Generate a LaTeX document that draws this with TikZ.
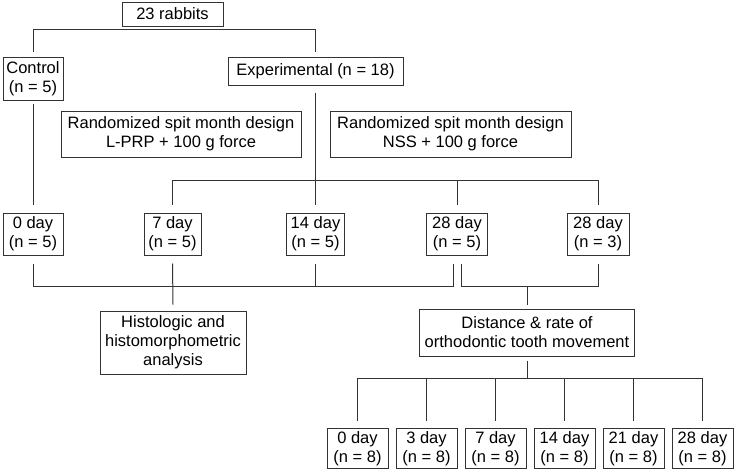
\documentclass[tikz,border=0pt]{standalone}
\usepackage{fontspec}
\setmainfont{Liberation Sans}
\tikzset{box/.style={draw=black!80, line width=1pt, align=center, inner sep=0pt},
  link/.style={draw=black!80, line width=1pt}}
\begin{document}
\begin{tikzpicture}[x=1pt,y=-1pt,font=\fontsize{16.5}{19}\selectfont]
\useasboundingbox (0,0) rectangle (735,471);
\node [box,minimum width=101,minimum height=24] (rabbits) at (172.5,14) {23 rabbits};
\node [box,minimum width=60,minimum height=43] (control) at (33,78.5) {Control\\(n = 5)};
\node [box,minimum width=175,minimum height=28] (exper) at (315.5,71) {Experimental (n = 18)};
\node [box,minimum width=240,minimum height=46] (lprp) at (181,134) {Randomized spit month design\\L-PRP + 100 g force};
\node [box,minimum width=241,minimum height=46] (nss) at (450.5,134) {Randomized spit month design\\NSS + 100 g force};
\node [box,minimum width=60,minimum height=42] (d0) at (33,234) {0 day\\(n = 5)};
\node [box,minimum width=57,minimum height=42] (d7) at (172.5,234) {7 day\\(n = 5)};
\node [box,minimum width=58,minimum height=42] (d14) at (315.5,234) {14 day\\(n = 5)};
\node [box,minimum width=61,minimum height=42] (d28a) at (457,234) {28 day\\(n = 5)};
\node [box,minimum width=62,minimum height=42] (d28b) at (598,234) {28 day\\(n = 3)};
\node [box,minimum width=146,minimum height=63] (histo) at (173,342.5) {Histologic and\\histomorphometric\\analysis};
\node [box,minimum width=215,minimum height=47] (dist) at (527,332.5) {Distance \& rate of\\orthodontic tooth movement};
\foreach \d [count=\i] in {0,3,7,14,21,28}
  \node [box,minimum width=61,minimum height=40] (b\i) at (357.5+69*\i-69,448.5) {\d\ day\\(n = 8)};
\coordinate (topbar) at (0,29.5);
\coordinate (rowbar) at (0,180);
\coordinate (histbar) at (0,286);
\coordinate (botbar) at (0,378);
\coordinate (splitL) at ([xshift=-4pt,yshift=-8pt]d28a.south);
\coordinate (splitR) at ([xshift=4pt,yshift=-8pt]d28a.south);
\draw [link] ([yshift=5pt]control.north) |- (rabbits |- topbar) -| ([yshift=5pt]exper.north);
\draw [link] ([yshift=-3pt]control.south) -- ([yshift=8pt]d0.north);
\draw [link] ([yshift=-7pt]exper.south) -- ([yshift=8pt]d14.north);
\draw [link] ([yshift=8pt]d7.north) |- (d28b |- rowbar) -- ([yshift=8pt]d28b.north);
\draw [link] (d28a |- rowbar) -- ([yshift=8pt]d28a.north);
\draw [link] ([yshift=-8pt]d0.south) |- (splitL |- histbar) -- (splitL);
\draw [link] ([yshift=-8pt]d7.south) -- ([yshift=6pt]histo.north);
\draw [link] ([yshift=-8pt]d14.south) -- (d14 |- histbar);
\draw [link] (splitR) |- (d28b |- histbar) -- ([yshift=-8pt]d28b.south);
\draw [link] (dist |- histbar) -- ([yshift=4pt]dist.north);
\draw [link] ([yshift=-4pt]dist.south) -- (dist |- botbar);
\draw [link] (b1 |- botbar) -- (b6 |- botbar);
\foreach \i in {1,...,6}
  \draw [link] (b\i |- botbar) -- ([yshift=7pt]b\i.north);
\end{tikzpicture}
\end{document}
